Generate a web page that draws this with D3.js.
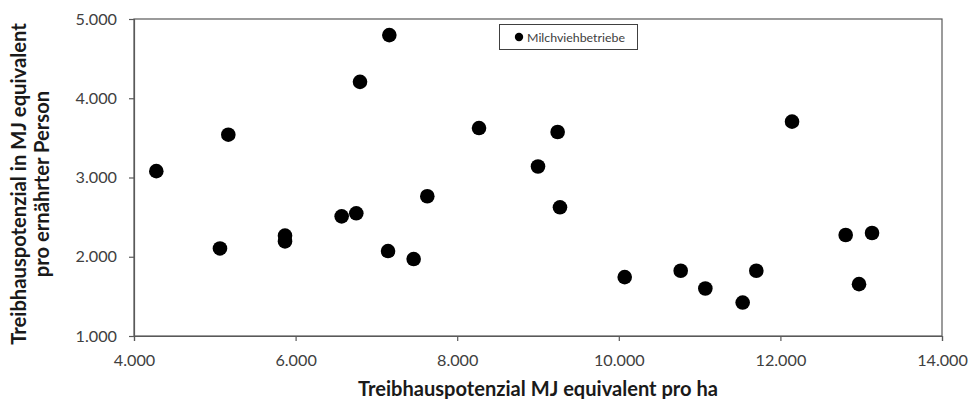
<!DOCTYPE html>
<html>
<head>
<meta charset="utf-8">
<script src="https://cdn.jsdelivr.net/npm/d3@7"></script>
<style>
  html, body { margin: 0; padding: 0; background: #fff; }
  svg { display: block; font-family: Lato, "Open Sans", sans-serif; }
</style>
</head>
<body>
<svg id="chart" width="969" height="399"></svg>
<script>
// Data (x: MJ equivalent pro ha, y: MJ equivalent pro ernährter Person)
const xValues = [4276, 5167, 5064, 5869, 5869, 6570, 6751, 6797, 7160, 7144, 7461, 7630,
                 8270, 9243, 9000, 9272, 10073,
                 10766, 11071, 11533, 11702, 12144, 12808, 13134, 12973];
const yValues = [3080, 3540, 2105, 2266, 2194, 2510, 2548, 4207, 4797, 2072, 1971, 2763,
                 3624, 3574, 3139, 2624, 1743,
                 1823, 1599, 1422, 1823, 3705, 2274, 2300, 1654];
const xTicks = [4000, 6000, 8000, 10000, 12000, 14000];
const yTicks = [1000, 2000, 3000, 4000, 5000];
const seriesName = "Milchviehbetriebe";
const xTitle = "Treibhauspotenzial MJ equivalent pro ha";
const yTitleLines = ["Treibhauspotenzial in MJ equivalent", "pro ernährter Person"];

const svg = d3.select("#chart");
const pL = 134, pR = 942, pT = 19, pB = 336;
const axisColor = "#595959";
const fmt = d => d3.format(",")(d).replace(/,/g, ".");

// scale a text's font size so its natural width matches a target width
function fitSize(sel, size, target) {
  sel.attr("font-size", size);
  const w = sel.node().getComputedTextLength();
  sel.attr("font-size", (size * target / w).toFixed(2));
}

const x = d3.scaleLinear().domain([4000, 14000]).range([pL, pR]);
const y = d3.scaleLinear().domain([1000, 5000]).range([pB, pT]);

// frame
svg.append("rect")
  .attr("x", pL).attr("y", pT)
  .attr("width", pR - pL).attr("height", pB - pT)
  .attr("fill", "none").attr("stroke", axisColor).attr("stroke-width", 1.2);

// measure tick font size from the reference width of "4.000" (~42px)
const probe = svg.append("text").attr("font-family", "Lato, sans-serif").text(fmt(4000));
fitSize(probe, 15, 42);
const tickSize = Math.min(+probe.attr("font-size"), 16.2);
probe.remove();

// x axis
const gx = svg.append("g").attr("transform", `translate(0,${pB})`)
  .call(d3.axisBottom(x).tickValues(xTicks).tickFormat(fmt).tickSize(5).tickPadding(0));
gx.select(".domain").attr("stroke", axisColor).attr("stroke-width", 1.2);
gx.selectAll(".tick line").attr("stroke", axisColor).attr("stroke-width", 1.2);
gx.selectAll(".tick text").attr("font-size", tickSize).attr("fill", "#404040")
  .attr("font-family", "Lato, sans-serif").attr("dy", null).attr("y", 30);

// y axis
const gy = svg.append("g").attr("transform", `translate(${pL},0)`)
  .call(d3.axisLeft(y).tickValues(yTicks).tickFormat(fmt).tickSize(5).tickPadding(12));
gy.select(".domain").attr("stroke", axisColor).attr("stroke-width", 1.2);
gy.selectAll(".tick line").attr("stroke", axisColor).attr("stroke-width", 1.2);
gy.selectAll(".tick text").attr("font-size", tickSize).attr("fill", "#404040")
  .attr("font-family", "Lato, sans-serif");

// points
svg.append("g").selectAll("circle")
  .data(xValues.map((v, i) => [v, yValues[i]]))
  .join("circle")
  .attr("cx", d => x(d[0])).attr("cy", d => y(d[1]))
  .attr("r", 7.3).attr("fill", "#000");

// x title
const xt = svg.append("text")
  .attr("x", 538).attr("y", 395.5)
  .attr("text-anchor", "middle").attr("font-weight", "bold")
  .attr("fill", "#1a1a1a")
  .text(xTitle);
fitSize(xt, 18, 360);

// y title
const yt = svg.append("text")
  .attr("transform", `translate(0,184) rotate(-90)`)
  .attr("text-anchor", "middle").attr("font-weight", "bold")
  .attr("fill", "#1a1a1a");
const t1 = yt.append("tspan").attr("x", 0).attr("y", 25.5).text(yTitleLines[0]);
yt.append("tspan").attr("x", 0).attr("y", 49).text(yTitleLines[1]);
yt.attr("font-size", 18);
const w1 = t1.node().getComputedTextLength();
yt.attr("font-size", (18 * 322 / w1).toFixed(2));

// legend
const lg = svg.append("g");
lg.append("rect").attr("x", 499.5).attr("y", 24.5).attr("width", 138).attr("height", 25)
  .attr("fill", "#fff").attr("stroke", "#404040").attr("stroke-width", 1);
lg.append("circle").attr("cx", 519).attr("cy", 37).attr("r", 4.2).attr("fill", "#000");
const lt = lg.append("text").attr("x", 527).attr("y", 41.5)
  .attr("fill", "#404040").text(seriesName);
fitSize(lt, 12, 98);
</script>
</body>
</html>
